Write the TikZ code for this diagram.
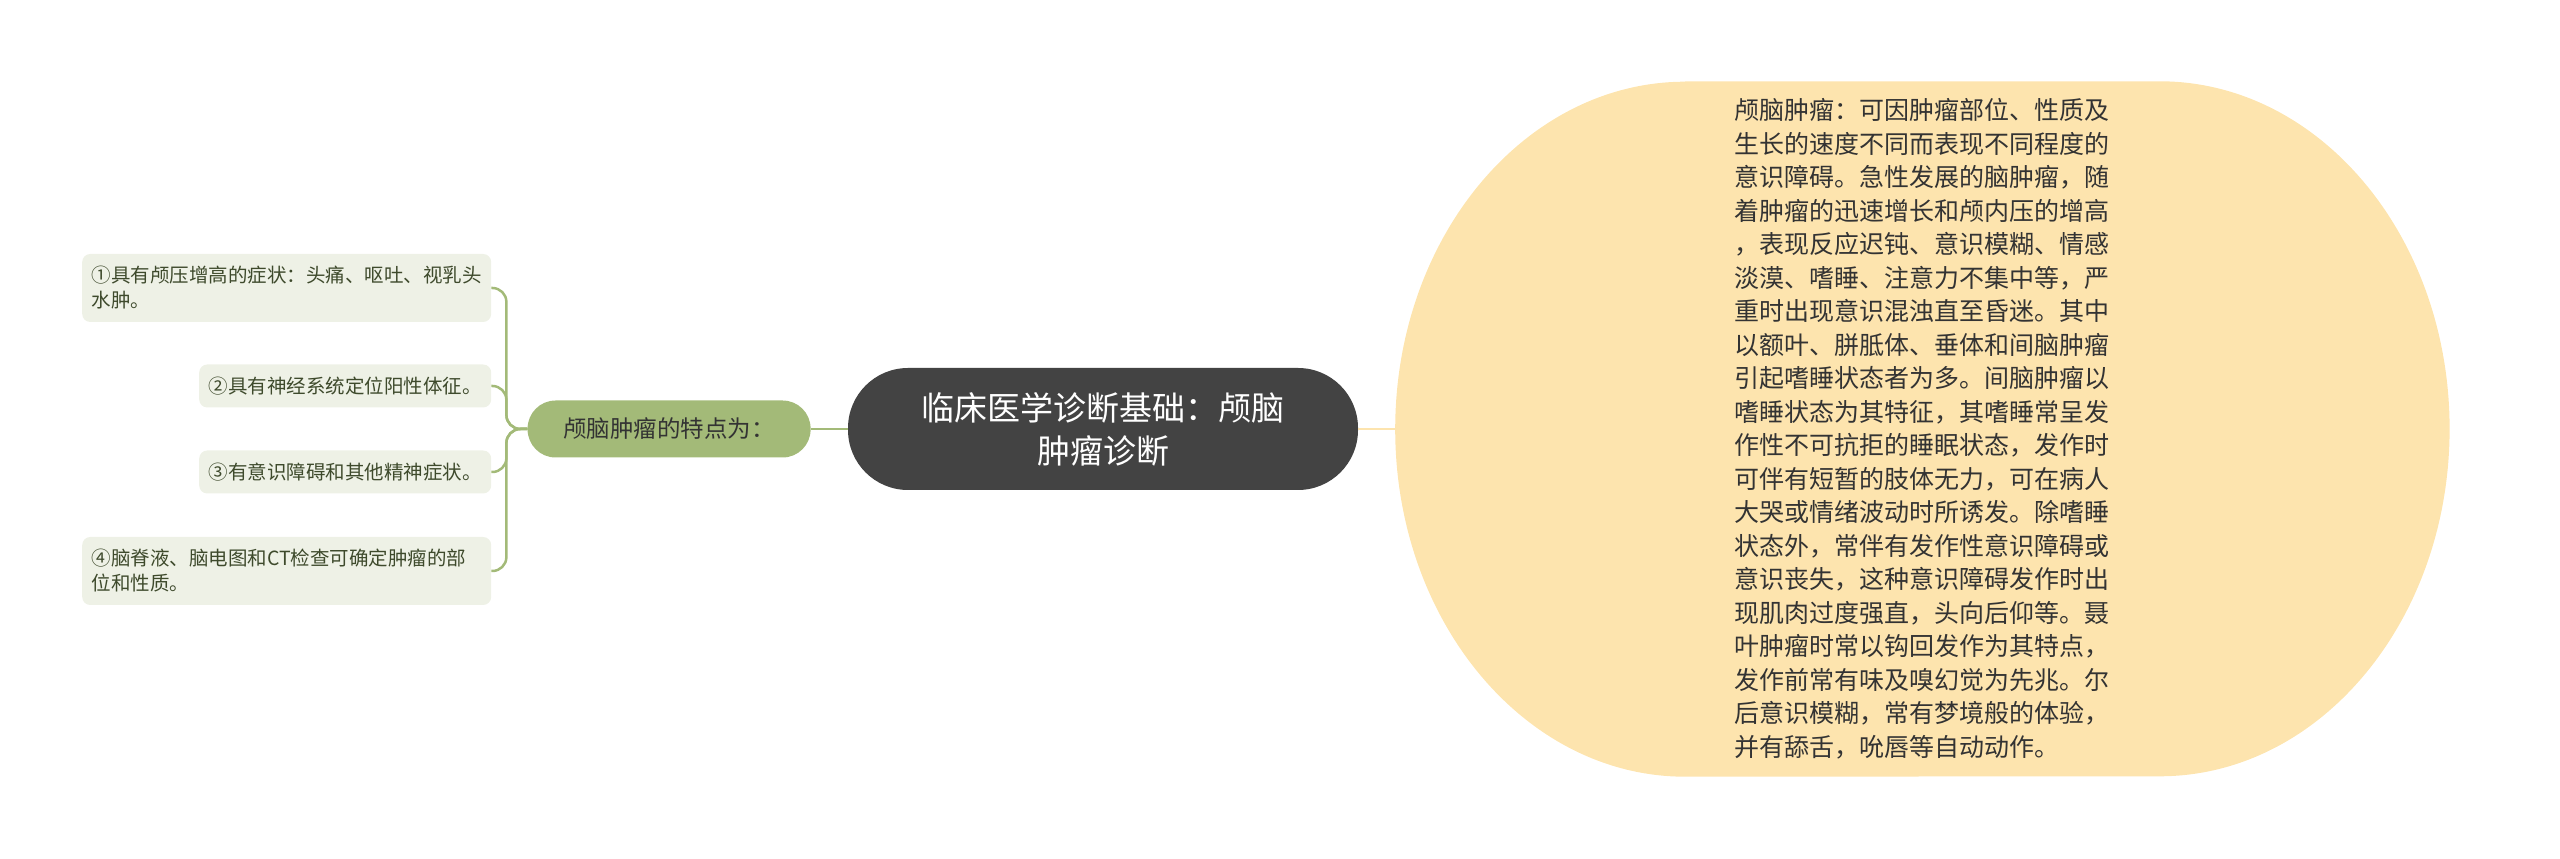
\documentclass[tikz,border=0pt]{standalone}
\usepackage{fontspec}
\setmainfont{Noto Sans CJK SC}
\usepackage{tikz}
\usetikzlibrary{positioning,backgrounds}
\definecolor{topicgray}{HTML}{434343}
\definecolor{sage}{HTML}{A3BA78}
\definecolor{signfill}{HTML}{EEF1E6}
\definecolor{signtext}{HTML}{3E4A2C}
\definecolor{peach}{HTML}{FDE4AE}
\definecolor{notetext}{HTML}{333333}
\tikzset{
    topic/.style={rectangle,rounded corners=60pt,fill=topicgray,text=white,minimum width=510pt,minimum height=122pt,align=center,font=\fontsize{33}{43}\selectfont},
    subtopic/.style={rectangle,rounded corners=28pt,fill=sage,text=notetext,minimum width=283pt,minimum height=57pt,font=\fontsize{23.5}{28}\selectfont},
    signbox/.style={rectangle,rounded corners=8pt,fill=signfill,text=signtext,inner xsep=9.5pt,align=left,font=\fontsize{19.5}{25}\selectfont},
    notebox/.style={rectangle,minimum width=1054pt,minimum height=695pt,text width=375pt,align=left,text=notetext,font=\fontsize{25}{33.5}\selectfont},
    greenlink/.style={-,line width=2.5pt,draw=sage,rounded corners=14pt},
    yellowlink/.style={-,line width=2.5pt,draw=peach}
}

\begin{document}
\begin{tikzpicture}[x=1pt,y=1pt]

                \useasboundingbox (0,0) rectangle (2560,859);

                \node[topic]    (main)    at (1103,430)                                                                 {临床医学诊断基础：颅脑\\肿瘤诊断};

                \node[subtopic] (feature) [left=37pt of main]                                                           {颅脑肿瘤的特点为：};

                \node[signbox]  (sign1)   [left=36pt of feature,yshift=141pt,text width=390pt,minimum height=68pt]      {①具有颅压增高的症状：头痛、呕吐、视乳头\\水肿。};

                \node[signbox]  (sign2)   [left=36pt of feature,yshift=43pt,text width=273pt,minimum height=43pt]       {②具有神经系统定位阳性体征。};

                \node[signbox]  (sign3)   [left=36pt of feature,yshift=-43pt,text width=273pt,minimum height=43pt]      {③有意识障碍和其他精神症状。};

                \node[signbox]  (sign4)   [left=36pt of feature,yshift=-142pt,text width=390pt,minimum height=68pt]     {④脑脊液、脑电图和CT检查可确定肿瘤的部\\位和性质。};

                \node[notebox]  (note)    [right=37pt of main] {颅脑肿瘤：可因肿瘤部位、性质及\\生长的速度不同而表现不同程度的\\意识障碍。急性发展的脑肿瘤，随\\着肿瘤的迅速增长和颅内压的增高\\，表现反应迟钝、意识模糊、情感\\淡漠、嗜睡、注意力不集中等，严\\重时出现意识混浊直至昏迷。其中\\以额叶、胼胝体、垂体和间脑肿瘤\\引起嗜睡状态者为多。间脑肿瘤以\\嗜睡状态为其特征，其嗜睡常呈发\\作性不可抗拒的睡眠状态，发作时\\可伴有短暂的肢体无力，可在病人\\大哭或情绪波动时所诱发。除嗜睡\\状态外，常伴有发作性意识障碍或\\意识丧失，这种意识障碍发作时出\\现肌肉过度强直，头向后仰等。聂\\叶肿瘤时常以钩回发作为其特点，\\发作前常有味及嗅幻觉为先兆。尔\\后意识模糊，常有梦境般的体验，\\并有舔舌，吮唇等自动动作。};

                \begin{scope}[on background layer]
                    \fill[peach] ([xshift=290pt]note.north west) -- ([xshift=-290pt]note.north east)
                        arc[start angle=90,end angle=-90,x radius=290pt,y radius=347.5pt]
                        -- ([xshift=290pt]note.south west)
                        arc[start angle=270,end angle=90,x radius=290pt,y radius=347.5pt] -- cycle;
                \end{scope}

                \draw[yellowlink] (main.east) -- (note.west);

                \draw[greenlink] (main.west) -- (feature.east);

                \foreach \s in {sign1,sign2,sign3,sign4}
                    \draw[greenlink] (feature.west) -- ++(-21pt,0) |- (\s.east);

            \end{tikzpicture}
\end{document}
